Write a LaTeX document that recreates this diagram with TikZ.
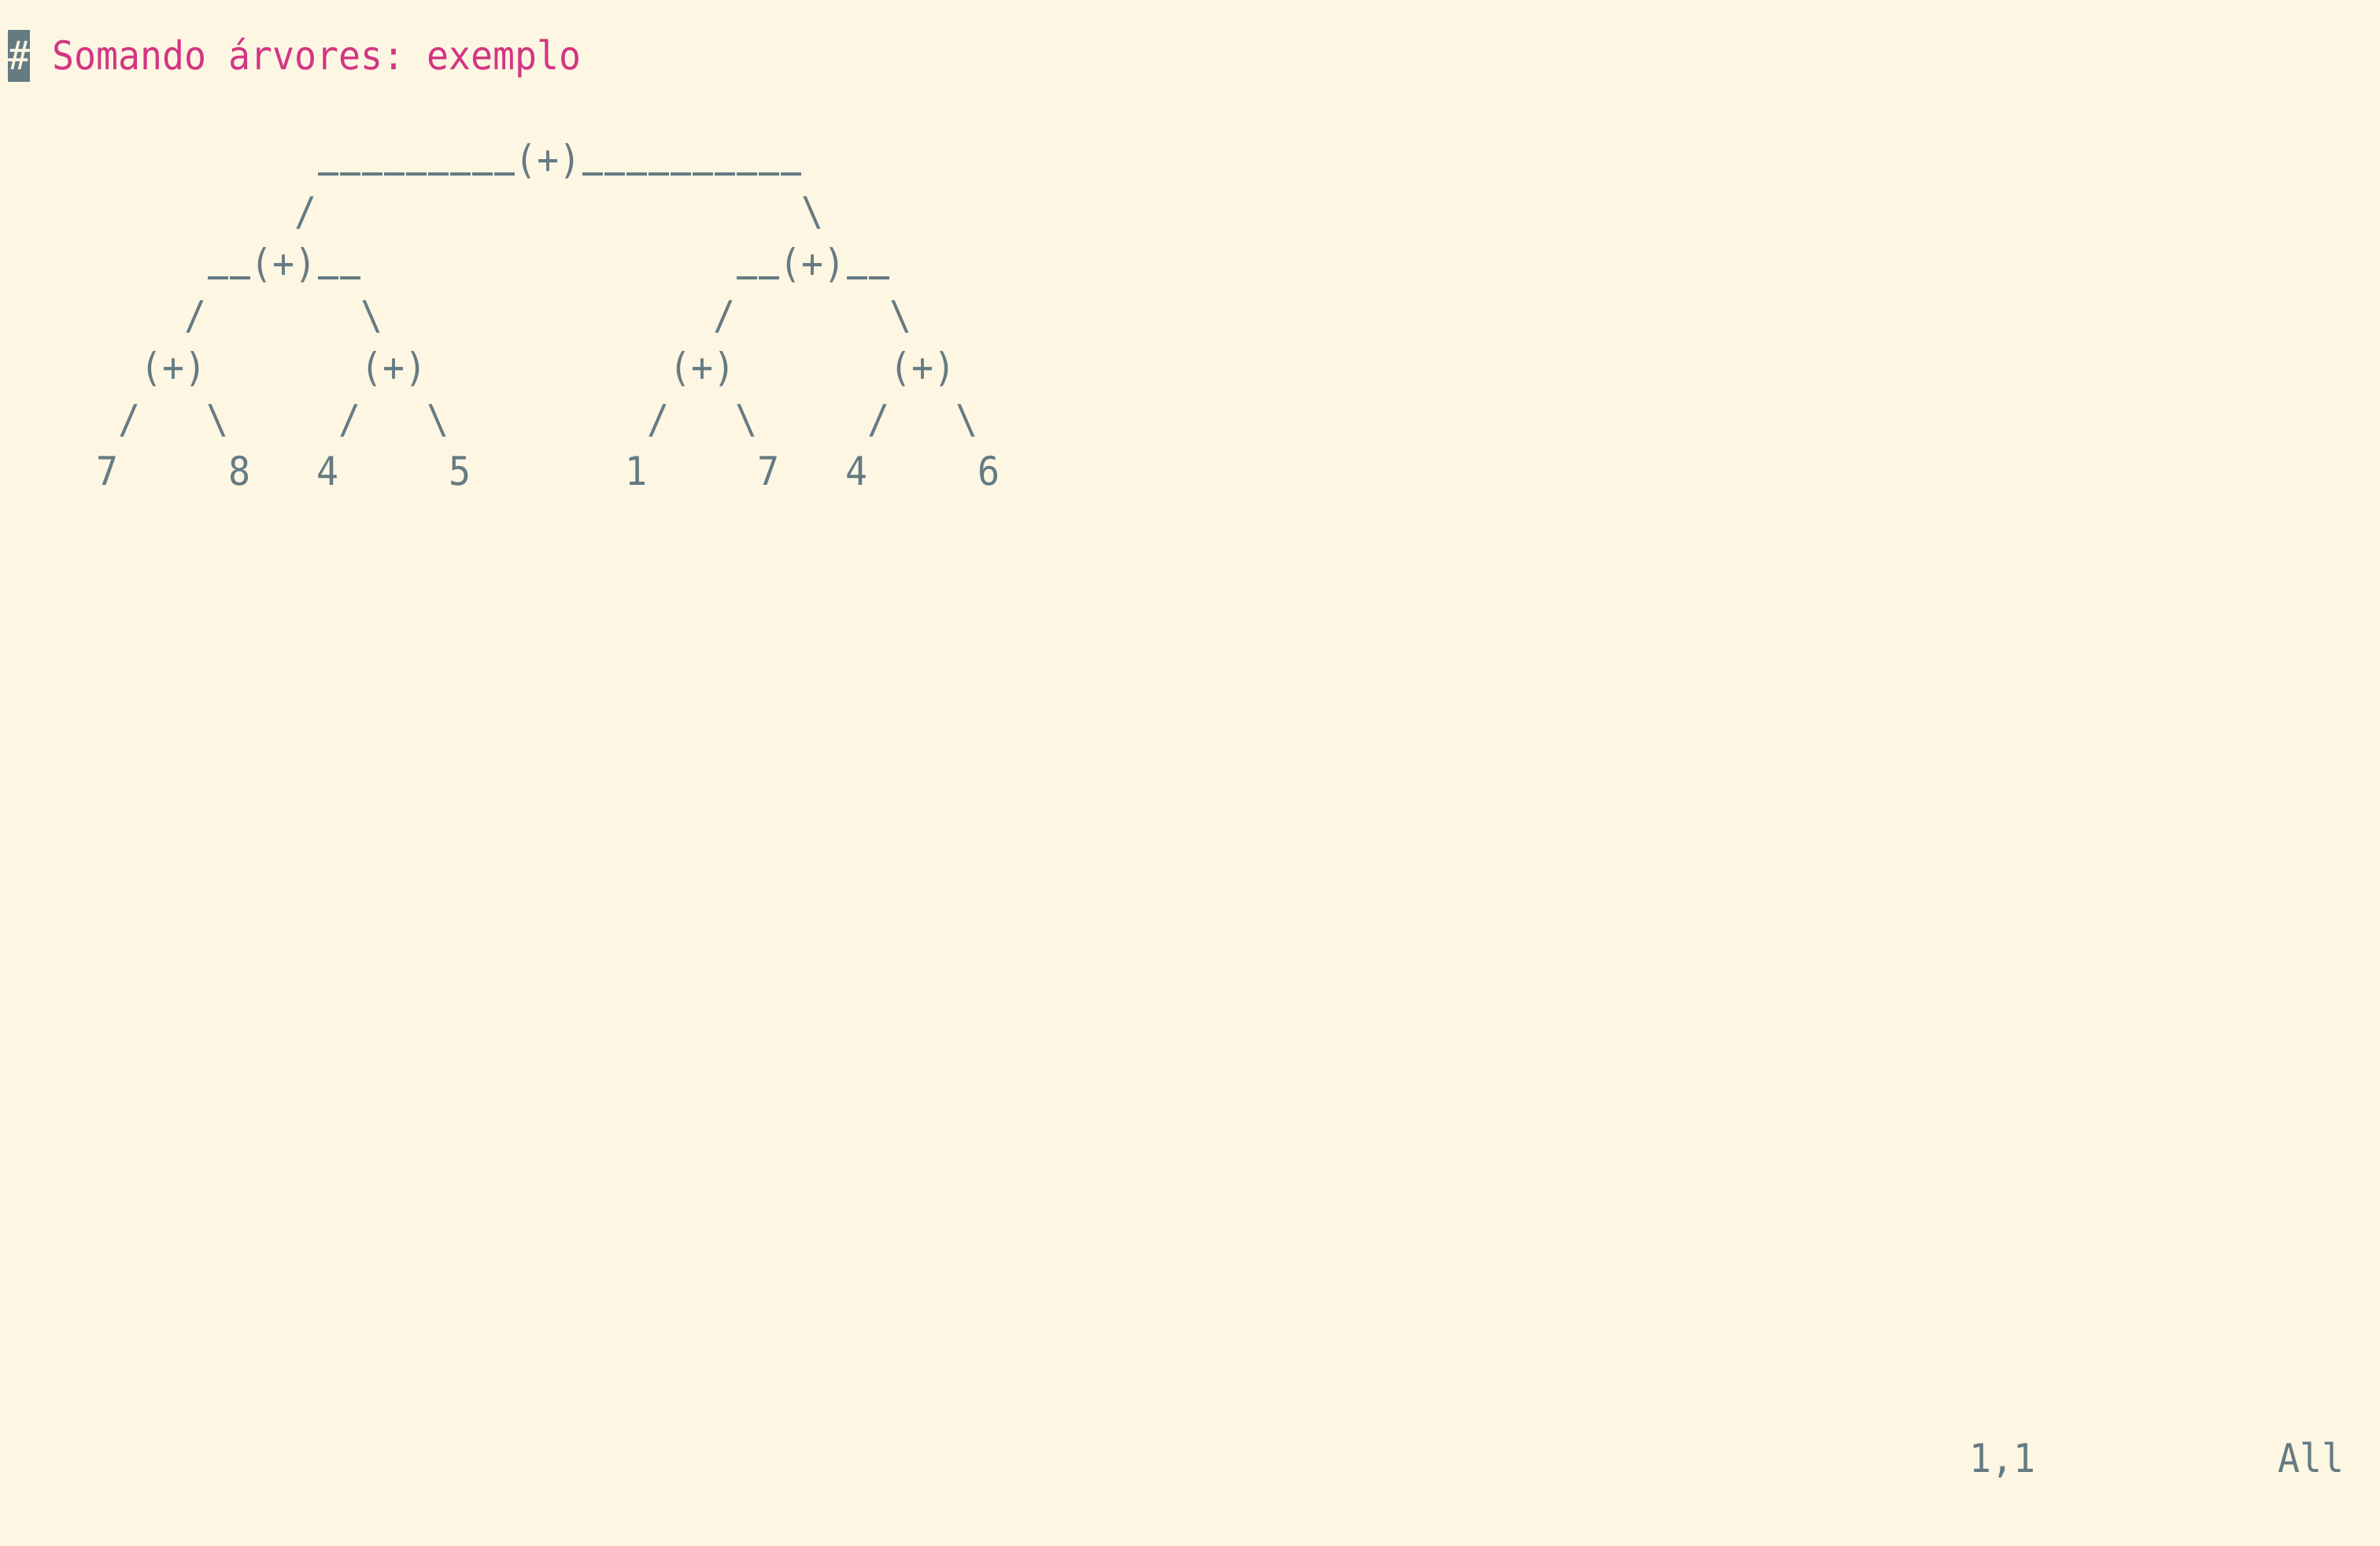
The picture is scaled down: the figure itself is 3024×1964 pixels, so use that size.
\documentclass[tikz,border=0pt]{standalone}
\usepackage{fontspec}
\setmonofont{DejaVu Sans Mono}[FakeStretch=0.925]
\usepackage{xcolor}
\definecolor{solBack}{HTML}{FDF6E3}
\definecolor{solText}{HTML}{657B83}
\definecolor{solMagenta}{HTML}{D33682}
\newcommand{\textcol}{solText}
\newcommand{\termfont}{\ttfamily\fontsize{14.3}{16}\selectfont\frenchspacing}
\newcommand{\termtext}[4]{
    % Text on the Terminal Grid
    % \termtext{name}{column}{row}{text}
    % the text starts at the left edge of the column, on the row's baseline
    % example:
    %   \renewcommand{\textcol}{solText}
    %   \termtext{hello}{2}{0}{Hello}
    \path ({10+28*#2},{88.3+66*#3}) node (#1) [anchor=base west,inner sep=0mm,
        text=\textcol,font=\termfont] {#4};
}
\newcommand{\cursorblock}[2]{
    % Block Cursor Over One Cell
    % \cursorblock{column}{row}
    % example:
    %   \cursorblock{0}{0}
    \fill[\textcol] ({10+28*#1},{38+66*#2}) rectangle ++(28,66);
}
\newcommand{\barglyph}{%
    % Underscore as the Terminal Font Draws It (Short Bar on the Baseline)
    % \barglyph
    % example:
    %   \termtext{b}{0}{0}{\barglyph\barglyph}
    \makebox[0.28cm][c]{\rule[-0.03cm]{0.26cm}{0.04cm}}%
}

\begin{document}
\begin{tikzpicture}[x=0.01cm,y=-0.01cm]
  \fill[solBack] (0,0) rectangle (3024,1964);
  \useasboundingbox (0,0) rectangle (3024,1964);
  \cursorblock{0}{0}
  \renewcommand{\textcol}{solBack}
  \termtext{hash}{0}{0}{\#}
  \renewcommand{\textcol}{solMagenta}
  \termtext{title}{2}{0}{Somando árvores: exemplo}

  \renewcommand{\textcol}{solText}
  \termtext{plusRoot}{14}{2}{\barglyph\barglyph\barglyph\barglyph\barglyph
      \barglyph\barglyph\barglyph\barglyph(+)\barglyph\barglyph\barglyph
      \barglyph\barglyph\barglyph\barglyph\barglyph\barglyph\barglyph}
  \termtext{edgeRootL}{13}{3}{/}
  \termtext{edgeRootR}{36}{3}{\textbackslash}
  \termtext{plusL}{9}{4}{\barglyph\barglyph(+)\barglyph\barglyph}
  \termtext{plusR}{33}{4}{\barglyph\barglyph(+)\barglyph\barglyph}
  \termtext{edgeLL}{8}{5}{/}
  \termtext{edgeLR}{16}{5}{\textbackslash}
  \termtext{edgeRL}{32}{5}{/}
  \termtext{edgeRR}{40}{5}{\textbackslash}
  \termtext{plusOne}{6}{6}{(+)}
  \termtext{plusTwo}{16}{6}{(+)}
  \termtext{plusThree}{30}{6}{(+)}
  \termtext{plusFour}{40}{6}{(+)}
  \termtext{edgeOneL}{5}{7}{/}
  \termtext{edgeOneR}{9}{7}{\textbackslash}
  \termtext{edgeTwoL}{15}{7}{/}
  \termtext{edgeTwoR}{19}{7}{\textbackslash}
  \termtext{edgeThreeL}{29}{7}{/}
  \termtext{edgeThreeR}{33}{7}{\textbackslash}
  \termtext{edgeFourL}{39}{7}{/}
  \termtext{edgeFourR}{43}{7}{\textbackslash}
  \termtext{leafOne}{4}{8}{7}
  \termtext{leafTwo}{10}{8}{8}
  \termtext{leafThree}{14}{8}{4}
  \termtext{leafFour}{20}{8}{5}
  \termtext{leafFive}{28}{8}{1}
  \termtext{leafSix}{34}{8}{7}
  \termtext{leafSeven}{38}{8}{4}
  \termtext{leafEight}{44}{8}{6}

  % status line
  \termtext{rulerPos}{89}{27}{1,1}
  \termtext{rulerAll}{103}{27}{All}
\end{tikzpicture}
\end{document}
